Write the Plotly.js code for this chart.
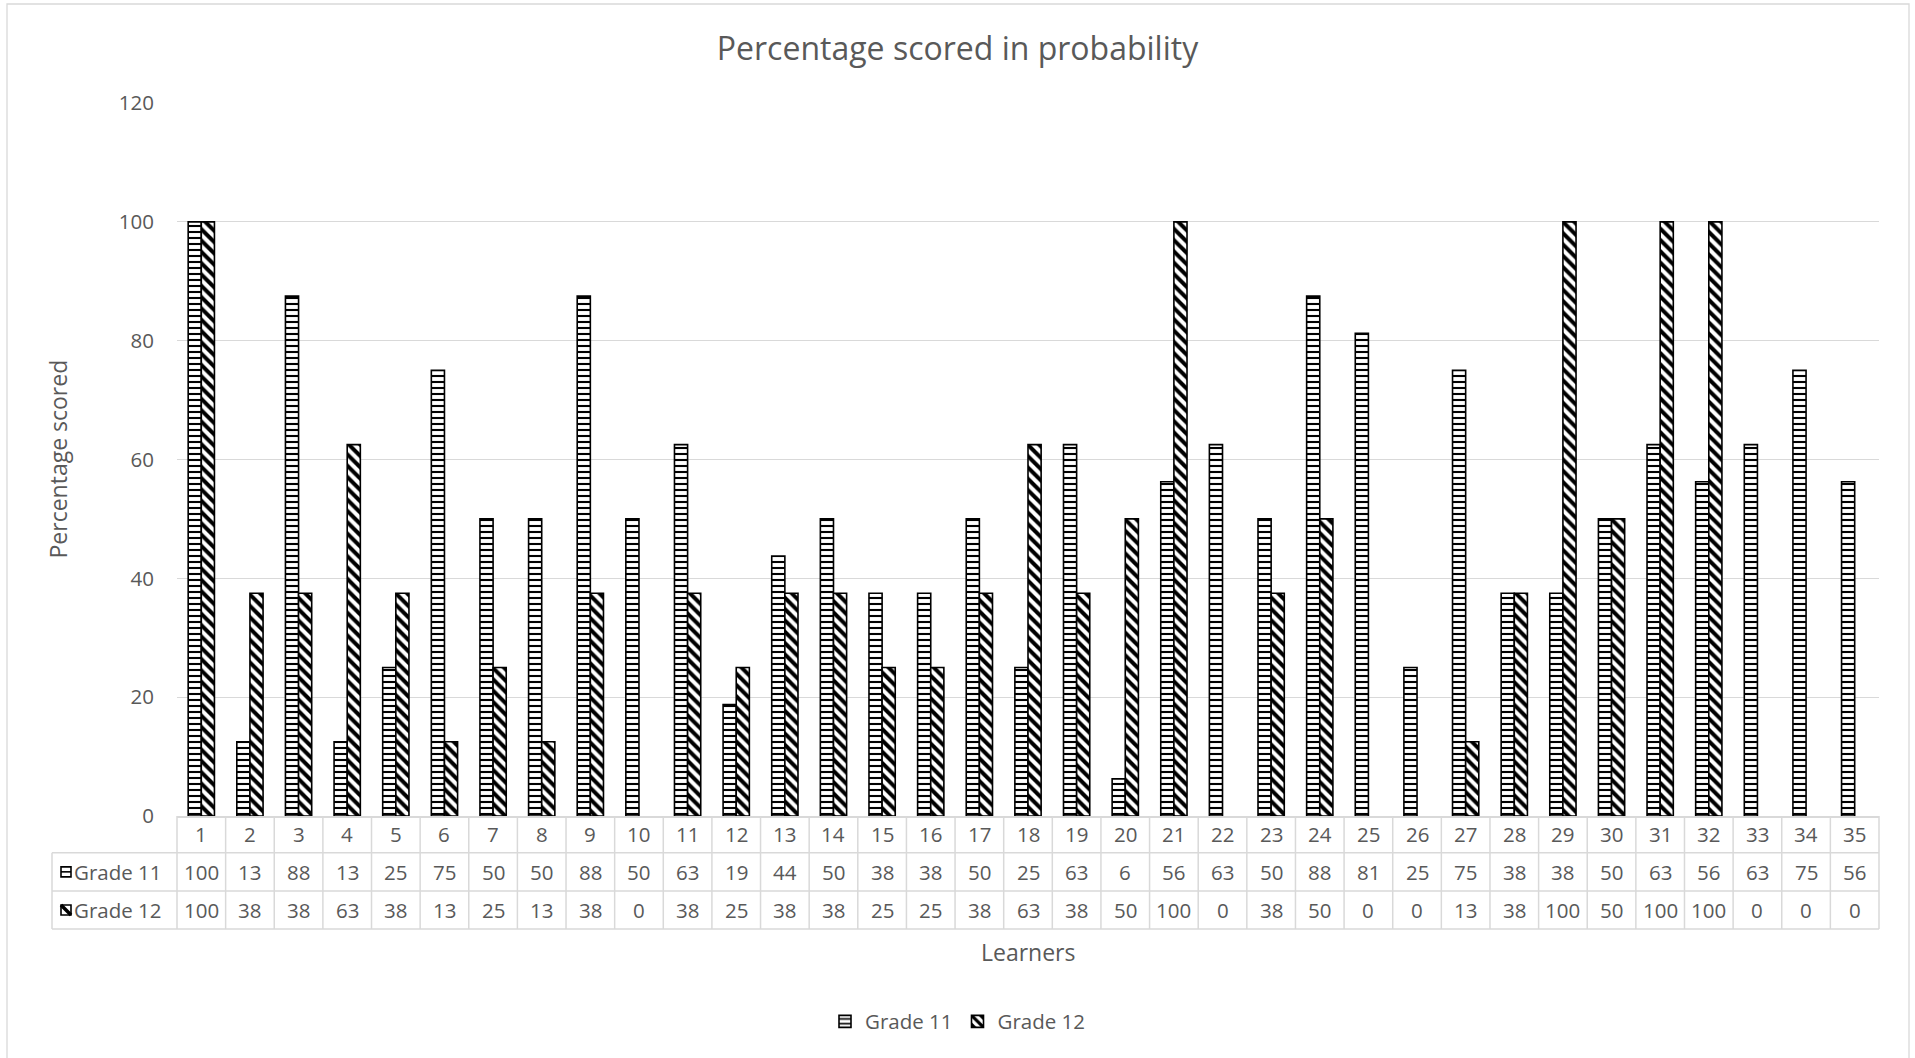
<!DOCTYPE html>
<html>
<head>
<meta charset="utf-8">
<script src="https://cdn.plot.ly/plotly-3.0.1.min.js"></script>
<style>
html,body{margin:0;padding:0;background:#fff;}
#chart{width:1915px;height:1058px;}
</style>
</head>
<body>
<div id="chart"></div>
<script>
// ---- data ----
const learners = [1,2,3,4,5,6,7,8,9,10,11,12,13,14,15,16,17,18,19,20,21,22,23,24,25,26,27,28,29,30,31,32,33,34,35];
const grade11 = [100,12.5,87.5,12.5,25,75,50,50,87.5,50,62.5,18.75,43.75,50,37.5,37.5,50,25,62.5,6.25,56.25,62.5,50,87.5,81.25,25,75,37.5,37.5,50,62.5,56.25,62.5,75,56.25];
const grade12 = [100,37.5,37.5,62.5,37.5,12.5,25,12.5,37.5,0,37.5,25,37.5,37.5,25,25,37.5,62.5,37.5,50,100,0,37.5,50,0,0,12.5,37.5,100,50,100,100,0,0,0];
const seriesNames = ['Grade 11', 'Grade 12'];
const chartTitle = 'Percentage scored in probability';
const xTitle = 'Learners';
const yTitle = 'Percentage scored';
const yTicks = [0,20,40,60,80,100,120];

// ---- geometry (pixels) ----
const W = 1915, H = 1058;
const M = {l:177, r:36, t:103, b:242};
const PW = W - M.l - M.r, PH = H - M.t - M.b;
const baseY = H - M.b;
const X = px => (px - M.l) / PW;
const Y = py => (baseY - py) / PH;

const FONT = '"Open Sans", "Noto Sans", sans-serif';
const TXT = '#595959';
const GRID = '#d9d9d9';

const row1 = 852.7, row2 = 891, row3 = 929, leftX = 52;

// no outline on empty (zero) bars
const outline = vals => vals.map(v => v === 0 ? 0 : 1.6);

const traces = [
  {type:'bar', name:seriesNames[0], x:learners, y:grade11,
   marker:{color:'white', line:{color:'black', width:outline(grade11)},
           pattern:{shape:'-', size:6, solidity:0.35, fgcolor:'black', bgcolor:'white', fillmode:'replace'}},
   hoverinfo:'x+y'},
  {type:'bar', name:seriesNames[1], x:learners, y:grade12,
   marker:{color:'white', line:{color:'black', width:outline(grade12)},
           pattern:{shape:'\\', size:8, solidity:0.5, fgcolor:'black', bgcolor:'white', fillmode:'replace'}},
   hoverinfo:'x+y'}
];

const shapes = [];
const annotations = [];
const n = learners.length;

// table vertical lines
for (let k = 0; k <= n; k++) {
  shapes.push({type:'line', xref:'paper', yref:'paper', x0:k/n, x1:k/n, y0:Y(row3), y1:0,
               line:{color:GRID, width:1.5}});
}
// left column verticals
shapes.push({type:'line', xref:'paper', yref:'paper', x0:X(leftX), x1:X(leftX), y0:Y(row3), y1:Y(row1), line:{color:GRID, width:1.5}});
// horizontals
[row1, row2, row3].forEach(r => shapes.push({type:'line', xref:'paper', yref:'paper', x0:X(leftX), x1:1, y0:Y(r), y1:Y(r), line:{color:GRID, width:1.5}}));

// outer chart border
shapes.push({type:'rect', xref:'paper', yref:'paper', x0:X(7), x1:X(1909), y0:Y(4), y1:Y(1070), line:{color:GRID, width:1.3}, fillcolor:'rgba(0,0,0,0)'});

// row label icons
const ic = {x0:61, x1:71};
const c11 = (row1+row2)/2, c12 = (row2+row3)/2;
shapes.push({type:'rect', xref:'paper', yref:'paper', x0:X(ic.x0), x1:X(ic.x1), y0:Y(c11-5), y1:Y(c11+5), line:{color:'black', width:1.6}, fillcolor:'white'});
shapes.push({type:'line', xref:'paper', yref:'paper', x0:X(ic.x0), x1:X(ic.x1), y0:Y(c11), y1:Y(c11), line:{color:'black', width:1.6}});
shapes.push({type:'rect', xref:'paper', yref:'paper', x0:X(ic.x0), x1:X(ic.x1), y0:Y(c12-5), y1:Y(c12+5), line:{color:'black', width:1.6}, fillcolor:'white'});
shapes.push({type:'line', xref:'paper', yref:'paper', x0:X(ic.x0), x1:X(ic.x1), y0:Y(c12-5), y1:Y(c12+5), line:{color:'black', width:3.5}});

// table text
const tf = {family:FONT, size:20.5, color:TXT};
const hdrC = (baseY + row1)/2;
learners.forEach((L, i) => {
  annotations.push({xref:'x', yref:'paper', x:L, y:Y(hdrC), text:String(L), showarrow:false, font:tf, xanchor:'center', yanchor:'middle'});
  annotations.push({xref:'x', yref:'paper', x:L, y:Y(c11), text:String(Math.round(grade11[i])), showarrow:false, font:tf, xanchor:'center', yanchor:'middle'});
  annotations.push({xref:'x', yref:'paper', x:L, y:Y(c12), text:String(Math.round(grade12[i])), showarrow:false, font:tf, xanchor:'center', yanchor:'middle'});
});
annotations.push({xref:'paper', yref:'paper', x:X(72), y:Y(c11), text:seriesNames[0], showarrow:false, font:tf, xanchor:'left', yanchor:'middle'});
annotations.push({xref:'paper', yref:'paper', x:X(72), y:Y(c12), text:seriesNames[1], showarrow:false, font:tf, xanchor:'left', yanchor:'middle'});

// axis titles
const af = {family:FONT, size:23, color:TXT};
annotations.push({xref:'paper', yref:'paper', x:X(57), y:0.5, text:yTitle, textangle:-90, showarrow:false, font:af, xanchor:'center', yanchor:'middle'});
annotations.push({xref:'paper', yref:'paper', x:0.5, y:Y(952), text:xTitle, showarrow:false, font:af, xanchor:'center', yanchor:'middle'});

const layout = {
  width:W, height:H,
  margin:M,
  paper_bgcolor:'white', plot_bgcolor:'white',
  font:{family:FONT, color:TXT},
  title:{text:chartTitle, font:{family:FONT, size:32, color:TXT}, x:0.5, xref:'container', xanchor:'center', y:1-49/H, yref:'container', yanchor:'middle'},
  barmode:'group', bargap:0.46, bargroupgap:0,
  xaxis:{range:[0.5, n+0.5], showticklabels:false, showgrid:false, zeroline:false, showline:true, linecolor:GRID, linewidth:1.5, ticks:'', fixedrange:true},
  yaxis:{range:[0,120], tickvals:yTicks, showgrid:true, gridcolor:GRID, gridwidth:1.3, zeroline:false, showline:false, ticks:'', ticklabelstandoff:22,
         tickfont:{family:FONT, size:20.5, color:TXT}, fixedrange:true},
  showlegend:true,
  legend:{orientation:'h', xref:'container', yref:'container', x:0.5, xanchor:'center', y:1-1021.5/H, yanchor:'middle',
          font:{family:FONT, size:20.5, color:TXT}, itemwidth:30, bgcolor:'rgba(0,0,0,0)'},
  shapes:shapes,
  annotations:annotations
};

Plotly.newPlot('chart', traces, layout, {displayModeBar:false, staticPlot:true});
</script>
</body>
</html>
